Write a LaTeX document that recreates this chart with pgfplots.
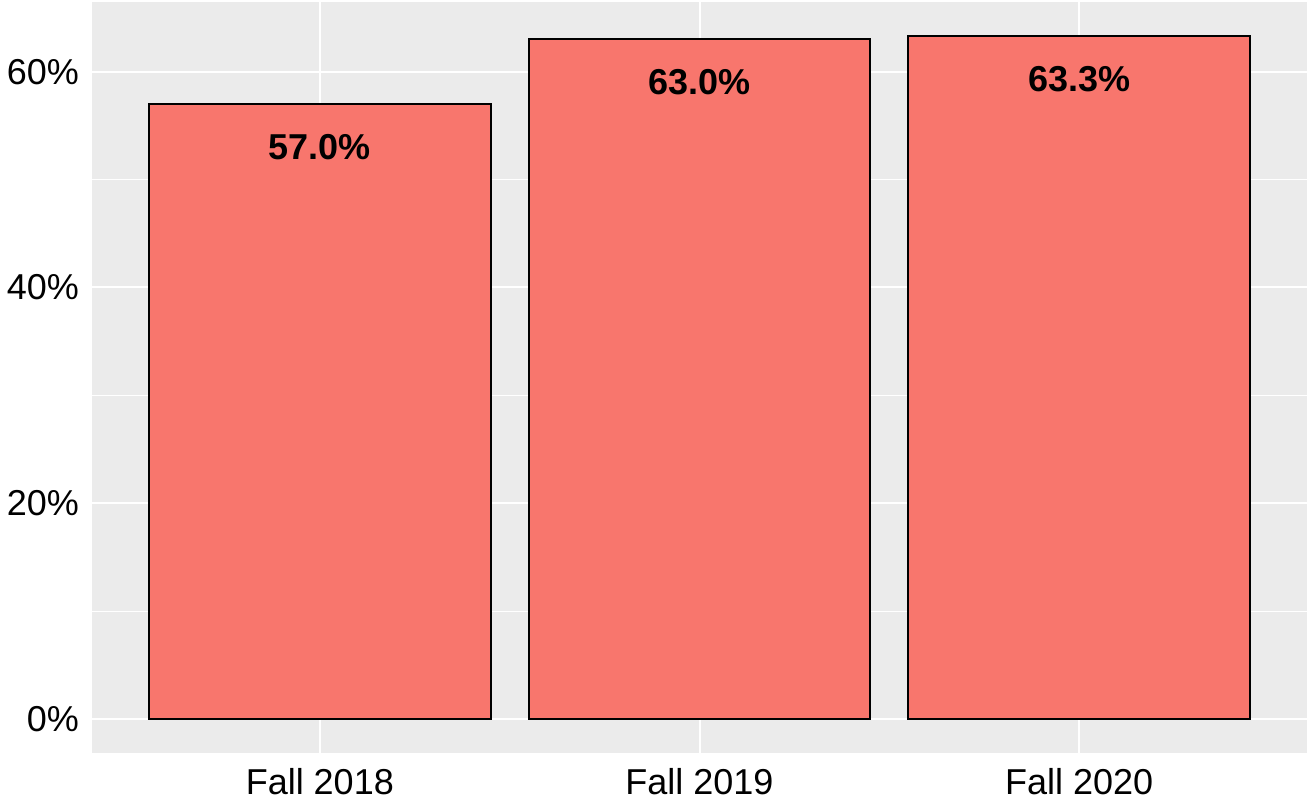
\documentclass[border=0pt]{standalone}
\usepackage{pgfplots}
\pgfplotsset{compat=1.18}
\usepackage{fontspec}
\setmainfont{Liberation Sans}
\definecolor{panelbg}{HTML}{EBEBEB}
\definecolor{barred}{HTML}{F8766D}
\begin{document}
\begin{tikzpicture}
\useasboundingbox (-46pt,-23.5pt) rectangle (607.5pt,376.5pt);
\begin{axis}[
  at={(0,0)}, anchor=south west,
  scale only axis,
  width=607.5pt, height=375.5pt,
  xmin=-0.6, xmax=2.6,
  ymin=-3.165, ymax=66.465,
  axis background/.style={fill=panelbg},
  axis line style={draw=none},
  major tick length=0pt, minor tick length=0pt,
  xtick={0,1,2},
  xticklabels={Fall 2018, Fall 2019, Fall 2020},
  ytick={0,20,40,60},
  minor ytick={10,30,50},
  yticklabel={\pgfmathprintnumber{\tick}\%},
  /pgf/number format/assume math mode=true,
  grid=both,
  major grid style={white, line width=1pt},
  minor grid style={white, line width=0.5pt},
  tick label style={font=\fontsize{18}{21}\selectfont, text=black},
  xticklabel style={yshift=-4pt},
  yticklabel style={xshift=-3pt},
  axis on top=false,
  clip=false,
]
\addplot[ybar, bar width=0.9, fill=barred, draw=black, line width=0.9pt,
  nodes near coords={\pgfmathprintnumber[fixed,fixed zerofill,precision=1]{\pgfplotspointmeta}\%},
  every node near coord/.append style={anchor=center, yshift=-21.5pt, font=\fontsize{18}{21}\selectfont\bfseries, text=black},
  point meta=y]
  coordinates {(0,57.0) (1,63.0) (2,63.3)};
\end{axis}
\end{tikzpicture}
\end{document}
